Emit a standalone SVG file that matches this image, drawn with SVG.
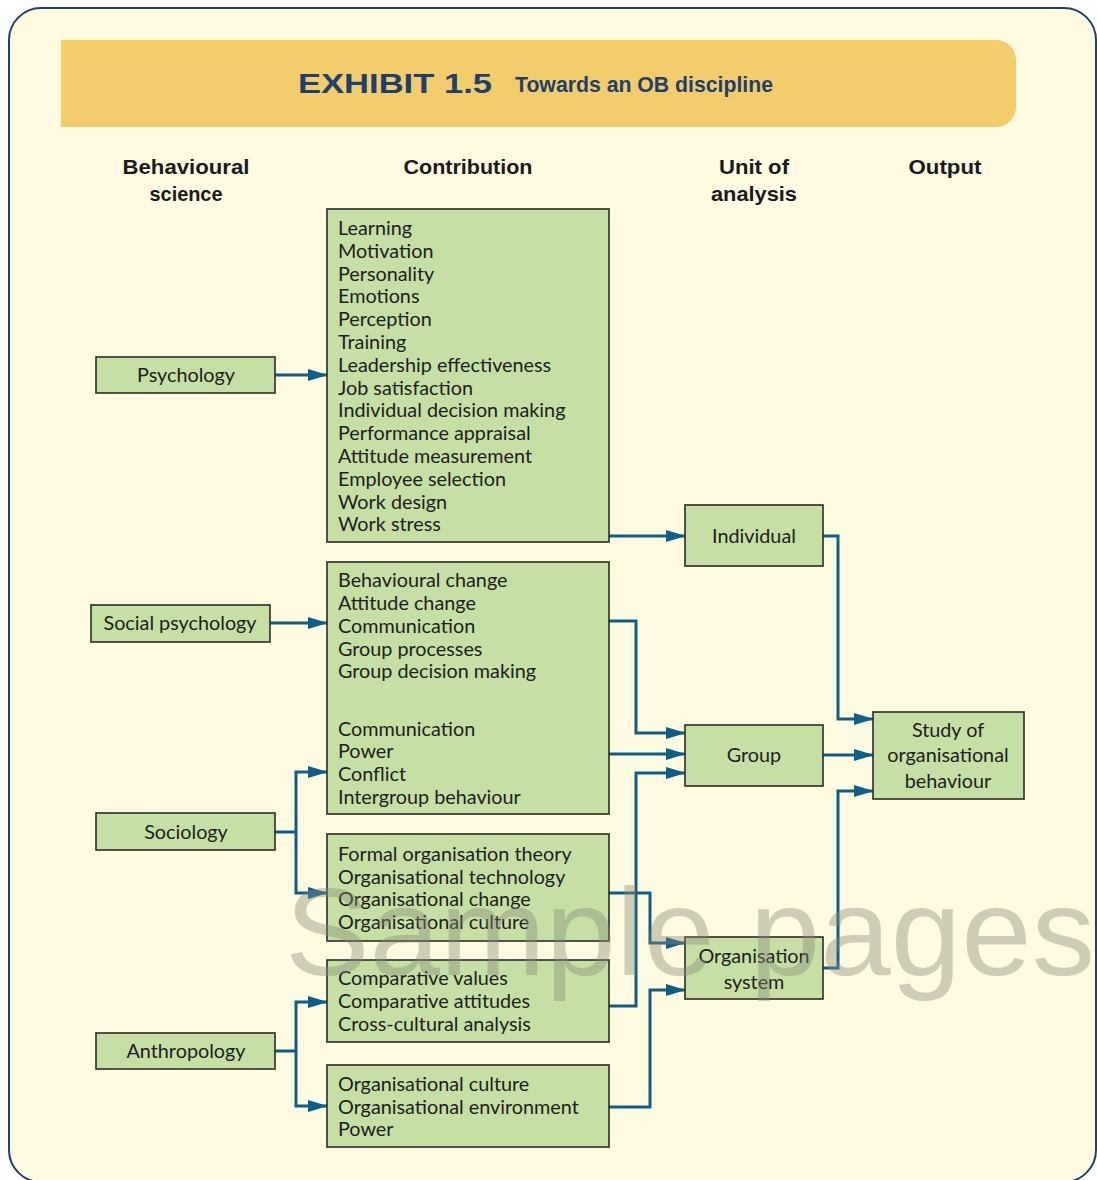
<svg xmlns="http://www.w3.org/2000/svg" width="1097" height="1180" viewBox="0 0 1097 1180">
  <style>
    .box { fill: #c5dfa4; stroke: #2b2b2b; stroke-width: 1.6; }
    .lbl { font-family: Lato, "Liberation Sans", sans-serif; font-size: 19.8px; fill: #1e1e1e; }
    .mid { text-anchor: middle; }
    .head { font-family: "Liberation Sans", Arial, sans-serif; font-weight: bold; font-size: 21px; fill: #1a1a1a; text-anchor: middle; }
    .conn { fill: none; stroke: #0f5e87; stroke-width: 3; marker-end: url(#arrow); }
    .plain { fill: none; stroke: #0f5e87; stroke-width: 3; }
  </style>
  <defs>
    <marker id="arrow" viewBox="0 0 20 12" refX="19" refY="6" markerUnits="userSpaceOnUse" markerWidth="20" markerHeight="12" orient="auto">
      <path d="M0,0 L20,6 L0,12 z" fill="#0f5e87"/>
    </marker>
  </defs>

  <!-- page and frame -->
  <rect x="0" y="0" width="1097" height="1180" fill="#ffffff"/>
  <rect x="9" y="8" width="1087" height="1174" rx="32" ry="32" fill="#fffbe1" stroke="#1f3f6e" stroke-width="2"/>

  <!-- title band -->
  <path d="M61,40 H996 A20,20 0 0 1 1016,60 V107 A20,20 0 0 1 996,127 H61 Z" fill="#f3cd6b"/>
  <text x="298" y="93" font-family="Liberation Sans, Arial, sans-serif" font-size="28" font-weight="600" fill="#1f3f6e" textLength="194" lengthAdjust="spacingAndGlyphs">EXHIBIT 1.5</text>
  <text x="515" y="92" font-family="Liberation Sans, Arial, sans-serif" font-size="22" font-weight="bold" fill="#1f3f6e" textLength="258" lengthAdjust="spacingAndGlyphs">Towards an OB discipline</text>

  <!-- column headings -->
  <g id="headings">
    <text class="head" x="186" y="174" textLength="127" lengthAdjust="spacingAndGlyphs">Behavioural</text>
    <text class="head" x="186" y="201" textLength="73" lengthAdjust="spacingAndGlyphs">science</text>
    <text class="head" x="468" y="174" textLength="129" lengthAdjust="spacingAndGlyphs">Contribution</text>
    <text class="head" x="754" y="174" textLength="70" lengthAdjust="spacingAndGlyphs">Unit of</text>
    <text class="head" x="754" y="201" textLength="86" lengthAdjust="spacingAndGlyphs">analysis</text>
    <text class="head" x="945" y="174" textLength="73" lengthAdjust="spacingAndGlyphs">Output</text>
  </g>

  <!-- connectors -->
  <g id="connectors">
    <path class="conn" d="M275,375 H327"/>
    <path class="conn" d="M609,536 H685"/>
    <path class="conn" d="M270,623 H327"/>
    <path class="conn" d="M609,621 H636 V733 H685"/>
    <path class="conn" d="M609,754 H685"/>
    <path class="conn" d="M609,1006 H636 V773 H685"/>
    <path class="conn" d="M609,893 H650 V943 H685"/>
    <path class="conn" d="M609,1107 H650 V990 H685"/>
    <path class="conn" d="M823,536 H838 V719 H873"/>
    <path class="conn" d="M823,755 H873"/>
    <path class="conn" d="M823,968 H838 V791 H873"/>
    <path class="plain" d="M275,832 H296"/>
    <path class="conn" d="M296,832 V772 H327"/>
    <path class="conn" d="M296,832 V893 H327"/>
    <path class="plain" d="M275,1051 H296"/>
    <path class="conn" d="M296,1051 V1002 H327"/>
    <path class="conn" d="M296,1051 V1106 H327"/>
  </g>

  <!-- behavioural sciences -->
  <g id="psychology">
    <rect class="box" x="96" y="357" width="179" height="36"/>
    <text class="lbl mid" x="186" y="382">Psychology</text>
  </g>
  <g id="social-psychology">
    <rect class="box" x="91" y="605" width="179" height="37"/>
    <text class="lbl mid" x="180" y="630">Social psychology</text>
  </g>
  <g id="sociology">
    <rect class="box" x="96" y="813" width="179" height="37"/>
    <text class="lbl mid" x="186" y="839">Sociology</text>
  </g>
  <g id="anthropology">
    <rect class="box" x="96" y="1033" width="179" height="36"/>
    <text class="lbl mid" x="186" y="1058">Anthropology</text>
  </g>

  <!-- contributions -->
  <g id="contrib-psychology">
    <rect class="box" x="327" y="209" width="282" height="333"/>
    <text class="lbl" x="338" y="235">Learning</text>
    <text class="lbl" x="338" y="257.8">Motivation</text>
    <text class="lbl" x="338" y="280.6">Personality</text>
    <text class="lbl" x="338" y="303.4">Emotions</text>
    <text class="lbl" x="338" y="326.2">Perception</text>
    <text class="lbl" x="338" y="349">Training</text>
    <text class="lbl" x="338" y="371.8">Leadership effectiveness</text>
    <text class="lbl" x="338" y="394.6">Job satisfaction</text>
    <text class="lbl" x="338" y="417.4">Individual decision making</text>
    <text class="lbl" x="338" y="440.2">Performance appraisal</text>
    <text class="lbl" x="338" y="463">Attitude measurement</text>
    <text class="lbl" x="338" y="485.8">Employee selection</text>
    <text class="lbl" x="338" y="508.6">Work design</text>
    <text class="lbl" x="338" y="531.4">Work stress</text>
  </g>
  <g id="contrib-social">
    <rect class="box" x="327" y="562" width="282" height="252"/>
    <text class="lbl" x="338" y="587">Behavioural change</text>
    <text class="lbl" x="338" y="610">Attitude change</text>
    <text class="lbl" x="338" y="633">Communication</text>
    <text class="lbl" x="338" y="656">Group processes</text>
    <text class="lbl" x="338" y="678">Group decision making</text>
    <text class="lbl" x="338" y="736">Communication</text>
    <text class="lbl" x="338" y="758">Power</text>
    <text class="lbl" x="338" y="781">Conflict</text>
    <text class="lbl" x="338" y="804">Intergroup behaviour</text>
  </g>
  <g id="contrib-organisation">
    <rect class="box" x="327" y="834" width="282" height="107"/>
    <text class="lbl" x="338" y="861">Formal organisation theory</text>
    <text class="lbl" x="338" y="884">Organisational technology</text>
    <text class="lbl" x="338" y="906">Organisational change</text>
    <text class="lbl" x="338" y="929">Organisational culture</text>
  </g>
  <g id="contrib-comparative">
    <rect class="box" x="327" y="960" width="282" height="82"/>
    <text class="lbl" x="338" y="985">Comparative values</text>
    <text class="lbl" x="338" y="1008">Comparative attitudes</text>
    <text class="lbl" x="338" y="1031">Cross-cultural analysis</text>
  </g>
  <g id="contrib-culture">
    <rect class="box" x="327" y="1065" width="282" height="82"/>
    <text class="lbl" x="338" y="1091">Organisational culture</text>
    <text class="lbl" x="338" y="1114">Organisational environment</text>
    <text class="lbl" x="338" y="1136">Power</text>
  </g>

  <!-- units of analysis -->
  <g id="individual">
    <rect class="box" x="685" y="505" width="138" height="61"/>
    <text class="lbl mid" x="754" y="543">Individual</text>
  </g>
  <g id="group">
    <rect class="box" x="685" y="725" width="138" height="61"/>
    <text class="lbl mid" x="754" y="762">Group</text>
  </g>
  <g id="organisation-system">
    <rect class="box" x="685" y="937" width="138" height="62"/>
    <text class="lbl mid" x="754" y="963">Organisation</text>
    <text class="lbl mid" x="754" y="989">system</text>
  </g>

  <!-- output -->
  <g id="study-ob">
    <rect class="box" x="873" y="712" width="151" height="87"/>
    <text class="lbl mid" x="948" y="737">Study of</text>
    <text class="lbl mid" x="948" y="762">organisational</text>
    <text class="lbl mid" x="948" y="788">behaviour</text>
  </g>

  <!-- watermark -->
  <text x="285" y="975" font-family="Liberation Sans, Arial, sans-serif" font-size="124" fill="#8a8a78" fill-opacity="0.4" textLength="810" lengthAdjust="spacingAndGlyphs">Sample pages</text>
</svg>
